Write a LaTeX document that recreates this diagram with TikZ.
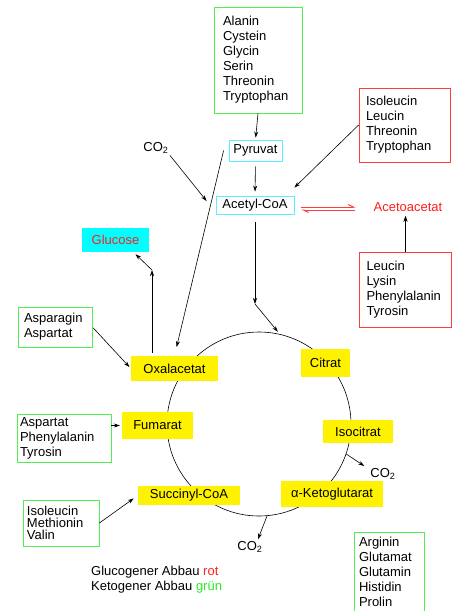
\documentclass[tikz,border=0pt]{standalone}
\usepackage{fontspec}
\setmainfont{Liberation Sans}
\usetikzlibrary{arrows.meta}

\definecolor{boxgreen}{RGB}{80,240,80}
\definecolor{boxred}{RGB}{255,60,60}
\definecolor{boxcyan}{RGB}{90,240,255}
\definecolor{fillcyan}{RGB}{0,255,255}
\definecolor{txtred}{RGB}{255,30,30}
\definecolor{txtgreen}{RGB}{40,230,40}

\begin{document}
\begin{tikzpicture}[x=1pt, y=-1pt,
  every node/.style={font=\fontsize{13}{15}\selectfont, inner sep=0pt},
  acid/.style={draw, line width=0.8pt, align=left},
  gbox/.style={acid, draw=boxgreen},
  rbox/.style={acid, draw=boxred},
  cbox/.style={draw=boxcyan, line width=0.8pt},
  ybox/.style={fill=yellow},
  arr/.style={-{Stealth[length=6pt,width=4pt]}, line width=0.6pt},
  harp/.style={draw=boxred, line width=1pt, -{Straight Barb[harpoon,length=5pt,width=5pt]}}]
\useasboundingbox (0,0) rectangle (452,611);
\node[draw, circle, minimum size=184pt, line width=0.6pt] (tca) at (259,424) {};
\node[gbox, minimum width=88pt, minimum height=106pt, text width=70pt] (gb1) at (258,60) {Alanin\\Cystein\\Glycin\\Serin\\Threonin\\Tryptophan};
\node[rbox, minimum width=91pt, minimum height=74pt, text width=77pt] (rb1) at (404.5,125) {Isoleucin\\Leucin\\Threonin\\Tryptophan};
\node[rbox, minimum width=92pt, minimum height=75pt, text width=78pt] (rb2) at (405.5,289.5) {Leucin\\Lysin\\Phenylalanin\\Tyrosin};
\node[gbox, minimum width=74pt, minimum height=40pt, text width=62pt] (gb2) at (55,327) {Asparagin\\Aspartat};
\node[gbox, minimum width=94pt, minimum height=48pt, text width=88pt] (gb3) at (64,438) {Aspartat\\Phenylalanin\\Tyrosin};
\node[gbox, minimum width=76pt, minimum height=46pt, text width=68pt, font=\fontsize{13}{12}\selectfont] (gb4) at (61,523) {Isoleucin\\Methionin\\Valin};
\node[gbox, minimum width=70pt, minimum height=80pt, text width=60pt] (gb5) at (389,572) {Arginin\\Glutamat\\Glutamin\\Histidin\\Prolin};
\node[cbox, minimum width=53pt, minimum height=21pt] (pyr) at (255.5,150.5) {Pyruvat};
\node[cbox, minimum width=78pt, minimum height=18pt] (acoa) at (255,205) {Acetyl-CoA};
\node[fill=fillcyan, text=txtred, minimum width=67pt, minimum height=24pt] (glc) at (115.5,240) {Glucose};
\node[text=txtred] (aceto) at (408,207) {Acetoacetat};
\node (co2a) at (156,148) {CO\textsubscript{2}};
\node[ybox, minimum width=87pt, minimum height=25pt] (oxa) at (174.5,368.5) {Oxalacetat};
\node[ybox, minimum width=49pt, minimum height=28pt] (cit) at (325.5,363) {Citrat};
\node[ybox, minimum width=70pt, minimum height=23pt] (iso) at (358,431.5) {Isocitrat};
\node[ybox, minimum width=102pt, minimum height=26pt] (akg) at (332,494) {α-Ketoglutarat};
\node[ybox, minimum width=102pt, minimum height=19pt] (suc) at (189,495.5) {Succinyl-CoA};
\node[ybox, minimum width=71pt, minimum height=27pt] (fum) at (157.5,425.5) {Fumarat};
\node (co2b) at (383,474) {CO\textsubscript{2}};
\node (co2c) at (250,547) {CO\textsubscript{2}};
\node[anchor=west, align=left] (leg) at (91,580) {Glucogener Abbau \textcolor{txtred}{rot}\\Ketogener Abbau \textcolor{txtgreen}{grün}};
\coordinate (k1) at (255,304);
\coordinate (k2) at (152,270);
\draw[arr, shorten >=2pt] (gb1.south) -- (pyr.north);
\draw[arr, shorten <=5pt, shorten >=4pt] (pyr.south) -- (acoa.north);
\draw[arr, shorten <=2pt] (co2a.south east) -- ([shift={(-9,-4)}]acoa.west);
\draw[arr, shorten >=9pt] ([shift={(-5,0)}]pyr.west) -- (oxa.north);
\draw[arr] (rb1.west) -- ([shift={(0,-8)}]acoa.north east);
\draw[harp] ([shift={(7,2)}]acoa.east) -- ([shift={(-18,0)}]aceto.west);
\draw[harp] ([shift={(-18,3)}]aceto.west) -- ([shift={(7,5)}]acoa.east);
\draw[arr, shorten >=4pt] (rb2.north) -- (rb2.north |- aceto.south);
\draw[arr, shorten <=8pt] (acoa.south) -- (k1);
\draw[arr, shorten >=3pt] (k1) -- (tca.77);
\draw[arr] ([shift={(-22.5,-3)}]oxa.north) -- (k2);
\draw[arr] (k2) -- ([shift={(20,2)}]glc.south);
\draw[arr, shorten <=1pt, shorten >=2pt] (gb2.east) -- (oxa.west);
\draw[arr, shorten >=2pt] (gb3.east |- fum.west) -- (fum.west);
\draw[arr, shorten >=5pt] (gb4.east) -- (suc.west);
\draw[arr] (tca.-19) -- ([shift={(-6,-8)}]co2b.west);
\draw[arr] (tca.-85) -- ([shift={(8,-2)}]co2c.north);
\end{tikzpicture}
\end{document}
